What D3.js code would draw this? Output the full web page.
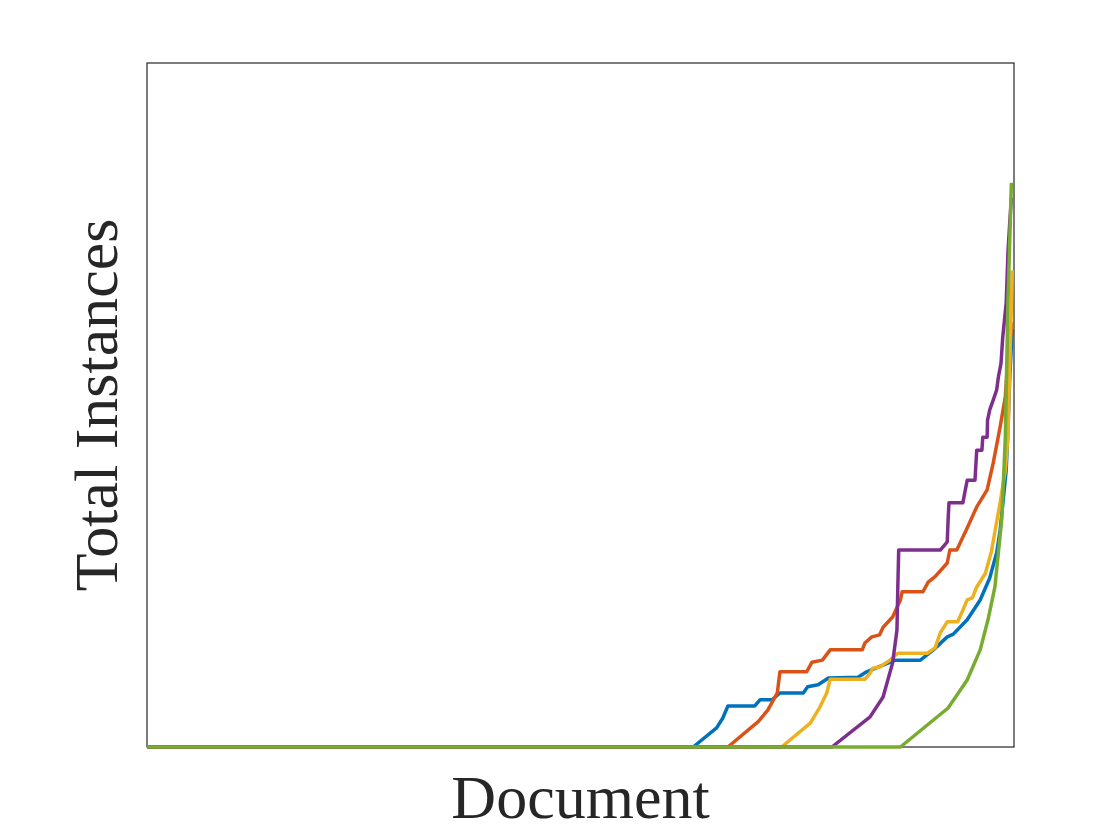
<!DOCTYPE html>
<html>
<head>
<meta charset="utf-8">
<script src="https://cdn.jsdelivr.net/npm/d3@7"></script>
<style>
  body { margin: 0; background: #fff; }
  svg { display: block; }
</style>
</head>
<body>
<div id="chart"></div>
<script>
'use strict'

// documents sorted by count, one array of x (document) and y (instances) per series
let blueDoc = [0, 630, 657, 664, 670, 701, 707, 721, 730, 757, 762, 774, 786, 820, 830, 863, 892, 907, 923, 930, 946, 961, 972, 980, 984, 987, 991, 993, 995, 998]
let blueVal = [0, 0, 2.8, 4.2, 6.0, 6.0, 6.9, 6.9, 7.9, 7.9, 8.8, 9.1, 10.1, 10.2, 11.0, 12.7, 12.7, 14.2, 16.1, 16.5, 18.6, 21.5, 24.7, 28.4, 31.7, 35.4, 40.5, 46.3, 53.7, 61.1]

let orangeDoc = [0, 670, 705, 716, 727, 730, 761, 767, 779, 788, 825, 828, 836, 845, 849, 860, 869, 871, 895, 901, 909, 923, 926, 934, 946, 957, 969, 976, 984, 990, 993, 998]
let orangeVal = [0, 0, 3.7, 5.4, 7.9, 11.0, 11.0, 12.4, 12.7, 14.2, 14.2, 15.2, 16.1, 16.4, 17.5, 19.0, 21.5, 22.7, 22.7, 24.1, 24.9, 26.9, 28.8, 28.8, 32.0, 35.1, 37.6, 41.5, 46.8, 51.2, 57.0, 62.1]

let yellowDoc = [0, 732, 765, 776, 784, 788, 828, 834, 837, 845, 857, 866, 900, 909, 915, 923, 935, 941, 946, 952, 957, 967, 974, 979, 984, 990, 993, 995, 998]
let yellowVal = [0, 0, 3.5, 5.8, 7.9, 9.9, 9.9, 10.8, 11.5, 11.7, 12.7, 13.7, 13.7, 14.5, 16.7, 18.3, 18.3, 20.0, 21.5, 21.8, 23.4, 25.4, 28.6, 32.2, 35.7, 40.5, 45.3, 55.1, 69.7]

let purpleDoc = [0, 790, 834, 849, 860, 865, 866, 867, 915, 923, 924, 925, 941, 946, 955, 957, 963, 964, 969, 969.5, 972, 976, 980, 982, 985, 987, 991, 993, 995, 997]
let purpleVal = [0, 0, 4.4, 7.3, 12.3, 17.1, 23.4, 28.8, 28.8, 30.0, 33.2, 35.7, 35.7, 39.0, 39.0, 43.4, 43.4, 45.3, 45.3, 47.8, 49.3, 50.7, 52.2, 54.1, 56.1, 59.9, 64.9, 72.2, 76.5, 80.3]

let greenDoc = [0, 869, 924, 946, 961, 970, 978, 984, 986, 990, 993, 997]
let greenVal = [0, 0, 5.7, 9.8, 14.2, 18.6, 23.4, 31.0, 33.5, 45.3, 64.9, 82.5]

let seriesColors = ["#0072BD", "#D95319", "#EDB120", "#7E2F8E", "#77AC30"]

function makeSeries(docs, vals){
	return docs.map(function(d, i){
		return { doc: d, val: vals[i] }
	})
}

function renderChart(width, height, padding){
	let svg = d3.select("#chart")
		.append("svg")
		.attr("width", width)
		.attr("height", height)

	let xScale = d3.scaleLinear().domain([0, 1000]).range([padding.left, width - padding.right])
	let yScale = d3.scaleLinear().domain([0, 100]).range([height - padding.bottom, padding.top])

	let series = [
		makeSeries(blueDoc, blueVal),
		makeSeries(orangeDoc, orangeVal),
		makeSeries(yellowDoc, yellowVal),
		makeSeries(purpleDoc, purpleVal),
		makeSeries(greenDoc, greenVal)
	]

	let line = d3.line()
		.x(function(d){ return xScale(d.doc) })
		.y(function(d){ return yScale(d.val) })

	// axes box
	svg.append("rect")
		.attr("x", xScale(0))
		.attr("y", yScale(100))
		.attr("width", xScale(1000) - xScale(0))
		.attr("height", yScale(0) - yScale(100))
		.attr("fill", "none")
		.attr("stroke", "#262626")
		.attr("stroke-width", 1.2)

	svg.selectAll(".series").data(series).enter().append("path")
		.attr("class", "series")
		.attr("d", line)
		.attr("fill", "none")
		.attr("stroke", function(d, i){ return seriesColors[i] })
		.attr("stroke-width", 3.5)
		.attr("stroke-linejoin", "round")

	let midX = (xScale(0) + xScale(1000)) / 2
	let midY = (yScale(0) + yScale(100)) / 2

	svg.append("text")
		.attr("x", midX)
		.attr("y", 818)
		.attr("text-anchor", "middle")
		.style("font-family", "'Liberation Serif', 'Times New Roman', serif")
		.style("font-size", "62px")
		.attr("fill", "#262626")
		.text("Document")

	svg.append("text")
		.attr("transform", "translate(117," + midY + ") rotate(-90)")
		.attr("text-anchor", "middle")
		.style("font-family", "'Liberation Serif', 'Times New Roman', serif")
		.style("font-size", "62px")
		.attr("fill", "#262626")
		.text("Total Instances")
}

let padding = {left: 147, right: 106, top: 63, bottom: 93}
renderChart(1120, 840, padding)
</script>
</body>
</html>
